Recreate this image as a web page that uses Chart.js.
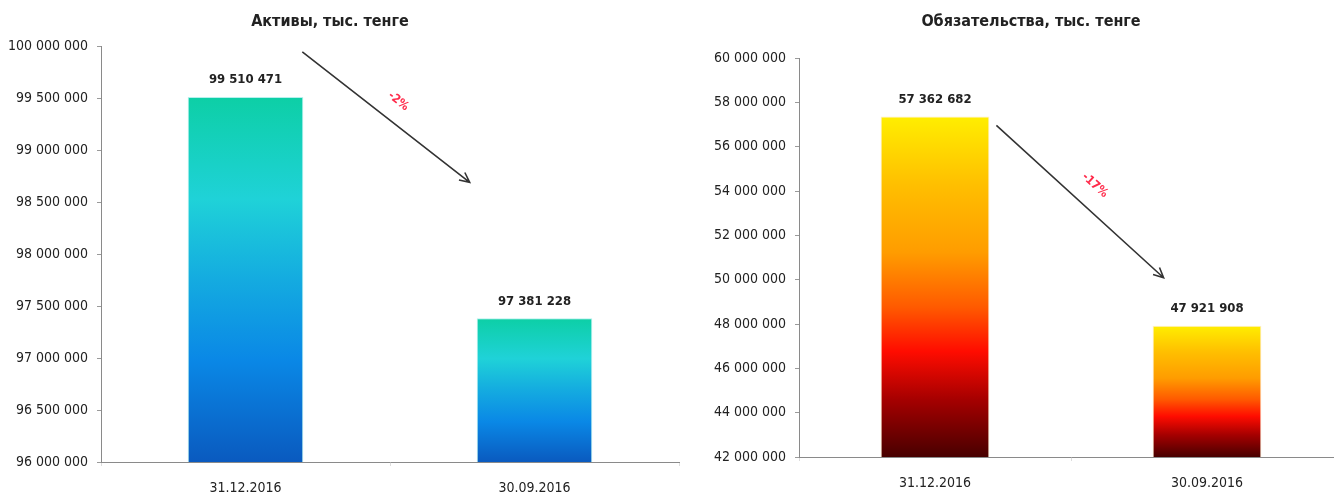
<!DOCTYPE html>
<html>
<head>
<meta charset="utf-8">
<script src="https://cdn.jsdelivr.net/npm/chart.js@4.4.1/dist/chart.umd.min.js"></script>
<style>
    html, body { margin: 0; padding: 0; background: #fff; overflow: hidden; }
    body { width: 1334px; height: 494px; position: relative; }
    .box { position: absolute; top: 0; height: 494px; }
    #assetsBox { left: 0; width: 690px; }
    #liabBox { left: 700px; width: 643px; }
</style>
</head>
<body>
<div class="box" id="assetsBox"><canvas id="assetsChart" width="690" height="494"></canvas></div>
<div class="box" id="liabBox"><canvas id="liabChart" width="643" height="494"></canvas></div>
<script>
const FONT = "'DejaVu Sans Condensed', 'Liberation Sans Narrow', 'DejaVu Sans', sans-serif";

const dates = ['31.12.2016', '30.09.2016'];

const assetsTitle = 'Активы, тыс. тенге';
const assetsValues = [99510471, 97381228];
const assetsTicks = [96000000, 96500000, 97000000, 97500000, 98000000, 98500000, 99000000, 99500000, 100000000];
const assetsChange = '-2%';

const liabTitle = 'Обязательства, тыс. тенге';
const liabValues = [57362682, 47921908];
const liabTicks = [42000000, 44000000, 46000000, 48000000, 50000000, 52000000, 54000000, 56000000, 58000000, 60000000];
const liabChange = '-17%';

const blueStops = [[0, '#0dcfa6'], [0.28, '#1fd2d8'], [0.5, '#14abe0'], [0.72, '#0a88e6'], [1, '#0a5abf']];
const fireStops = [[0, '#ffee00'], [0.2, '#ffbf00'], [0.4, '#ff9c00'], [0.56, '#ff5a00'], [0.69, '#ff0c00'], [0.83, '#a60000'], [1, '#480000']];

function fmt(v) {
    return String(v).replace(/\B(?=(\d{3})+(?!\d))/g, ' ');
}

// each bar gets its own gradient, top of bar to the axis
function barGradient(stops) {
    return function(ctx) {
        const chart = ctx.chart;
        if (!chart.chartArea || ctx.raw === undefined) return stops[0][1];
        const y = chart.scales.y;
        const top = y.getPixelForValue(ctx.raw);
        const bottom = y.getPixelForValue(y.min);
        const g = chart.ctx.createLinearGradient(0, top, 0, bottom);
        stops.forEach(s => g.addColorStop(s[0], s[1]));
        return g;
    };
}

// title, value labels and the trend arrow
const extras = {
    id: 'extras',
    afterDatasetsDraw(chart, args, opts) {
        const c = chart.ctx;
        const bars = chart.getDatasetMeta(0).data;
        c.save();

        c.fillStyle = '#222';
        c.font = 'bold 16px ' + FONT;
        c.textAlign = 'center';
        c.textBaseline = 'middle';
        c.fillText(opts.title, opts.titleX, 22);

        c.font = 'bold 13px ' + FONT;
        bars.forEach((b, i) => {
            c.fillText(fmt(chart.data.datasets[0].data[i]), b.x, b.y - 17);
        });

        const b1 = bars[0], b2 = bars[1];
        const x1 = b1.x + b1.width / 2 + opts.start[0];
        const y1 = b1.y + opts.start[1];
        const x2 = b2.x - b2.width / 2 + opts.end[0];
        const y2 = b2.y + opts.end[1];
        const ang = Math.atan2(y2 - y1, x2 - x1);

        c.strokeStyle = '#333';
        c.lineWidth = 1.6;
        c.beginPath();
        c.moveTo(x1, y1);
        c.lineTo(x2, y2);
        c.moveTo(x2 - 11 * Math.cos(ang - 0.45), y2 - 11 * Math.sin(ang - 0.45));
        c.lineTo(x2, y2);
        c.lineTo(x2 - 11 * Math.cos(ang + 0.45), y2 - 11 * Math.sin(ang + 0.45));
        c.stroke();

        const mx = (x1 + x2) / 2, my = (y1 + y2) / 2;
        c.translate(mx + opts.labelOff * Math.sin(ang), my - opts.labelOff * Math.cos(ang));
        c.rotate(ang);
        c.fillStyle = '#ff2a4a';
        c.font = 'bold 12px ' + FONT;
        c.fillText(opts.change, 0, 0);
        c.restore();
    }
};

function makeChart(canvas, cfg) {
    return new Chart(canvas, {
        type: 'bar',
        data: {
            labels: dates,
            datasets: [{
                data: cfg.values,
                backgroundColor: barGradient(cfg.stops),
                borderColor: cfg.edge,
                borderWidth: 1,
                borderSkipped: 'bottom',
                categoryPercentage: 1,
                barPercentage: 0.4
            }]
        },
        options: {
            responsive: false,
            animation: false,
            layout: { padding: { top: cfg.top, right: cfg.right, left: 0, bottom: 0 } },
            plugins: {
                legend: { display: false },
                tooltip: { enabled: false },
                extras: {
                    title: cfg.title, titleX: cfg.titleX, change: cfg.change,
                    start: cfg.start, end: cfg.end, labelOff: cfg.labelOff
                }
            },
            scales: {
                x: {
                    border: { color: '#8a8a8a', width: 1 },
                    grid: { drawOnChartArea: false, tickLength: 4, color: '#dddddd' },
                    ticks: { color: '#222', padding: 14, font: { family: FONT, size: 14 } },
                    afterFit(s) { s.height = cfg.xHeight; }
                },
                y: {
                    min: cfg.ticks[0],
                    max: cfg.ticks[cfg.ticks.length - 1],
                    afterBuildTicks(s) { s.ticks = cfg.ticks.map(v => ({ value: v })); },
                    border: { color: '#8a8a8a', width: 1 },
                    grid: { drawOnChartArea: false, tickLength: 4, color: '#9a9a9a' },
                    ticks: { color: '#222', padding: 9, font: { family: FONT, size: 14 }, callback: v => fmt(v) },
                    afterFit(s) { s.width = cfg.yWidth; }
                }
            }
        },
        plugins: [extras]
    });
}

makeChart(document.getElementById('assetsChart'), {
    values: assetsValues, ticks: assetsTicks, title: assetsTitle, change: assetsChange,
    stops: blueStops, edge: 'rgba(150, 235, 230, 0.7)',
    top: 46, right: 11, yWidth: 101, xHeight: 32, titleX: 330,
    start: [-1, -45], end: [-7, -136], labelOff: 20
});

makeChart(document.getElementById('liabChart'), {
    values: liabValues, ticks: liabTicks, title: liabTitle, change: liabChange,
    stops: fireStops, edge: 'rgba(255, 220, 150, 0.5)',
    top: 58, right: 0, yWidth: 99, xHeight: 37, titleX: 331,
    start: [7, 9], end: [11, -48], labelOff: 22
});
</script>
</body>
</html>
